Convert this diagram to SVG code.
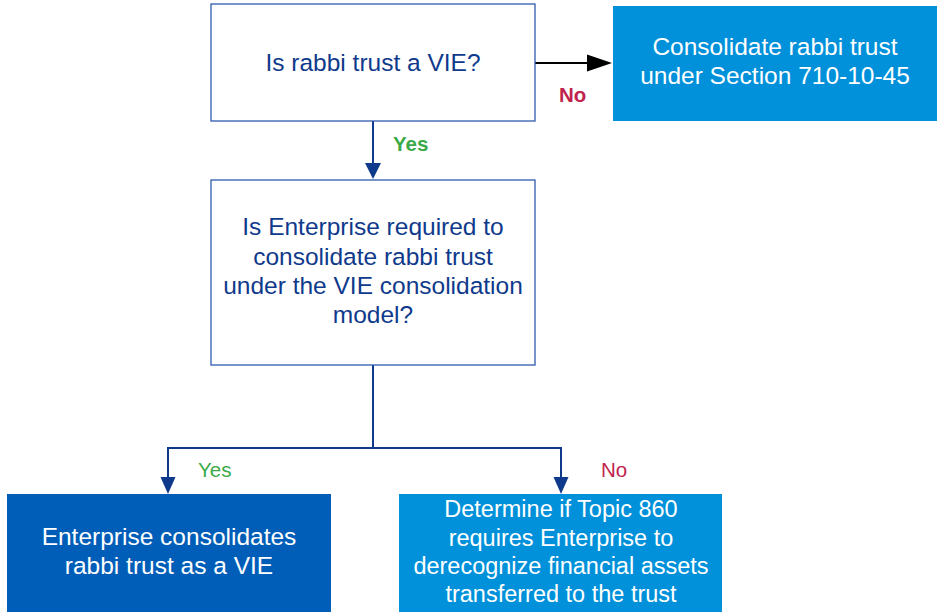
<svg xmlns="http://www.w3.org/2000/svg" width="937" height="612" viewBox="0 0 937 612">
<defs>
<style>
.t{font-family:"Liberation Sans",Arial,sans-serif;font-size:24.5px;text-anchor:middle}
.q{fill:#0F3A8C}
.w{fill:#ffffff}
.qb{fill:#ffffff;stroke:#2F5AAE;stroke-width:1.3}
.lbl{font-family:"Liberation Sans",Arial,sans-serif;font-size:20.5px}
.c{fill:none;stroke:#0F3A8C;stroke-width:2}
</style>
</defs>
<rect width="937" height="612" fill="#fff"/>
<g id="connectors">
<line x1="535" y1="63" x2="590" y2="63" stroke="#000" stroke-width="2"/>
<path d="M587,54.5 L612,63 L587,71.5 z" fill="#000"/>
<line x1="373" y1="121" x2="373" y2="165" class="c"/>
<path d="M365,163 L381,163 L373,179 z" fill="#0F3A8C"/>
<polyline points="373,365 373,448 168,448 168,480" class="c"/>
<polyline points="373,448 561,448 561,480" class="c"/>
<path d="M160.5,477 L175.5,477 L168,494 z" fill="#0F3A8C"/>
<path d="M553.5,477 L568.5,477 L561,494 z" fill="#0F3A8C"/>
</g>
<g id="q1">
<rect x="211" y="4" width="324" height="117" class="qb"/>
<text class="t q" x="373" y="71">Is rabbi trust a VIE?</text>
</g>
<g id="consolidate">
<rect x="613" y="6" width="324" height="115" fill="#0091DA"/>
<text class="t w" x="775" y="55">Consolidate rabbi trust</text>
<text class="t w" x="775" y="84">under Section 710-10-45</text>
</g>
<g id="q2">
<rect x="211" y="180" width="324" height="185" class="qb"/>
<text class="t q" x="373" y="235">Is Enterprise required to</text>
<text class="t q" x="373" y="265">consolidate rabbi trust</text>
<text class="t q" x="373" y="294">under the VIE consolidation</text>
<text class="t q" x="373" y="323">model?</text>
</g>
<g id="yesResult">
<rect x="7" y="494" width="324" height="118" fill="#005EB8"/>
<text class="t w" x="169" y="545">Enterprise consolidates</text>
<text class="t w" x="169" y="574">rabbi trust as a VIE</text>
</g>
<g id="noResult">
<rect x="399" y="494" width="323" height="118" fill="#0091DA"/>
<text class="t w" x="561" y="517" style="font-size:23.5px">Determine if Topic 860</text>
<text class="t w" x="561" y="546" style="font-size:23.5px">requires Enterprise to</text>
<text class="t w" x="561" y="574" style="font-size:23.5px">derecognize financial assets</text>
<text class="t w" x="561" y="602" style="font-size:23.5px">transferred to the trust</text>
</g>
<g id="labels">
<text class="lbl" x="559" y="102" font-weight="bold" fill="#C0244D">No</text>
<text class="lbl" x="393" y="151" font-weight="bold" fill="#3AAA48">Yes</text>
<text class="lbl" x="198" y="477" fill="#3AAA48">Yes</text>
<text class="lbl" x="601" y="477" fill="#C0244D">No</text>
</g>
</svg>
